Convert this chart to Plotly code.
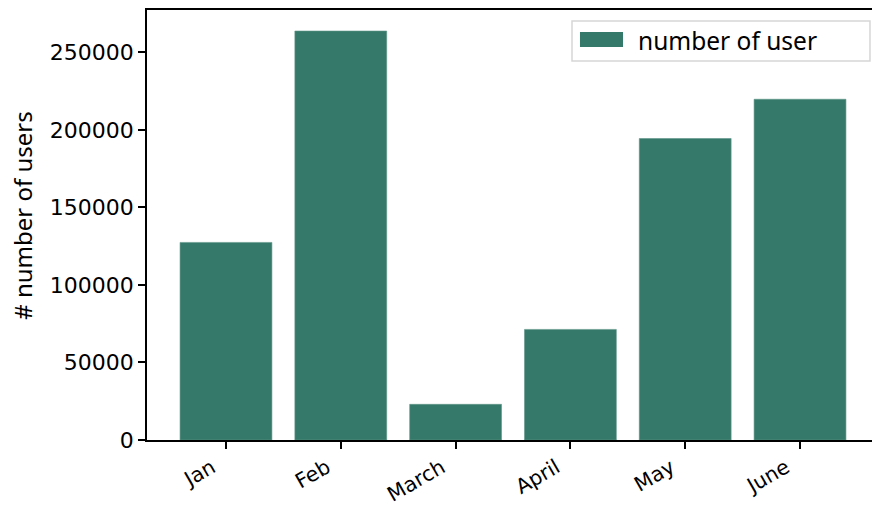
import plotly.graph_objects as go

months = ["Jan", "Feb", "March", "April", "May", "June"]
users = [127400, 263700, 23000, 71300, 194400, 219700]
series_name = "number of user"
y_title = "# number of users"
y_ticks = [0, 50000, 100000, 150000, 200000, 250000]

bar_color = "#35796a"

fig = go.Figure()
fig.add_trace(go.Bar(
    x=list(range(len(months))), y=users, name=series_name,
    marker=dict(color=bar_color, line=dict(color="#5f9688", width=0.6)),
    width=0.8, showlegend=False,
))

fig.update_layout(
    width=872, height=506,
    margin=dict(l=147, r=0, t=10, b=66, autoexpand=False),
    plot_bgcolor="white", paper_bgcolor="white",
    font=dict(family="DejaVu Sans", size=20, color="black"),
    showlegend=False,
)
fig.update_xaxes(
    range=[-0.688, 5.627], automargin=False,
    tickmode="array", tickvals=list(range(len(months))), ticktext=months,
    tickangle=-30, ticks="outside", ticklen=7, tickwidth=1.5, tickcolor="black",
    showline=True, linecolor="black", linewidth=1.5, mirror=True,
    showgrid=False, zeroline=False,
    tickfont=dict(family="DejaVu Sans", size=20.5),
    ticklabelshift=-14, ticklabelstandoff=-1,
)
fig.update_yaxes(
    range=[0, 277250], automargin=False,
    tickmode="array", tickvals=y_ticks, ticktext=[str(v) for v in y_ticks],
    ticks="outside", ticklen=7, tickwidth=1.5, tickcolor="black",
    showline=True, linecolor="black", linewidth=1.5,
    showgrid=False, zeroline=False,
    tickfont=dict(family="DejaVu Sans", size=22),
)
fig.add_annotation(
    text=y_title, xref="paper", yref="paper",
    x=-0.172, y=0.522, xanchor="center", yanchor="middle",
    textangle=-90, showarrow=False,
    font=dict(family="Noto Sans", size=24, color="black"),
)

# legend box (drawn to match the wide matplotlib-style patch)
fig.add_shape(type="rect", xref="paper", yref="paper",
              x0=0.5862, x1=0.9972, y0=0.8814, y1=0.9744,
              line=dict(color="#d6d6d6", width=1.5), fillcolor="rgba(255,255,255,0.8)")
fig.add_shape(type="rect", xref="paper", yref="paper",
              x0=0.5972, x1=0.6566, y0=0.9140, y1=0.9488,
              line=dict(color=bar_color, width=0), fillcolor=bar_color)
fig.add_annotation(
    text=series_name, xref="paper", yref="paper",
    x=0.6745, y=0.9302, xanchor="left", yanchor="middle",
    showarrow=False,
    font=dict(family="Noto Sans", size=24.5, color="black"),
)

fig.write_html(
    "out.html",
    config={"displayModeBar": False},
    post_script="document.body.style.margin='0';document.body.style.overflow='hidden';",
)
